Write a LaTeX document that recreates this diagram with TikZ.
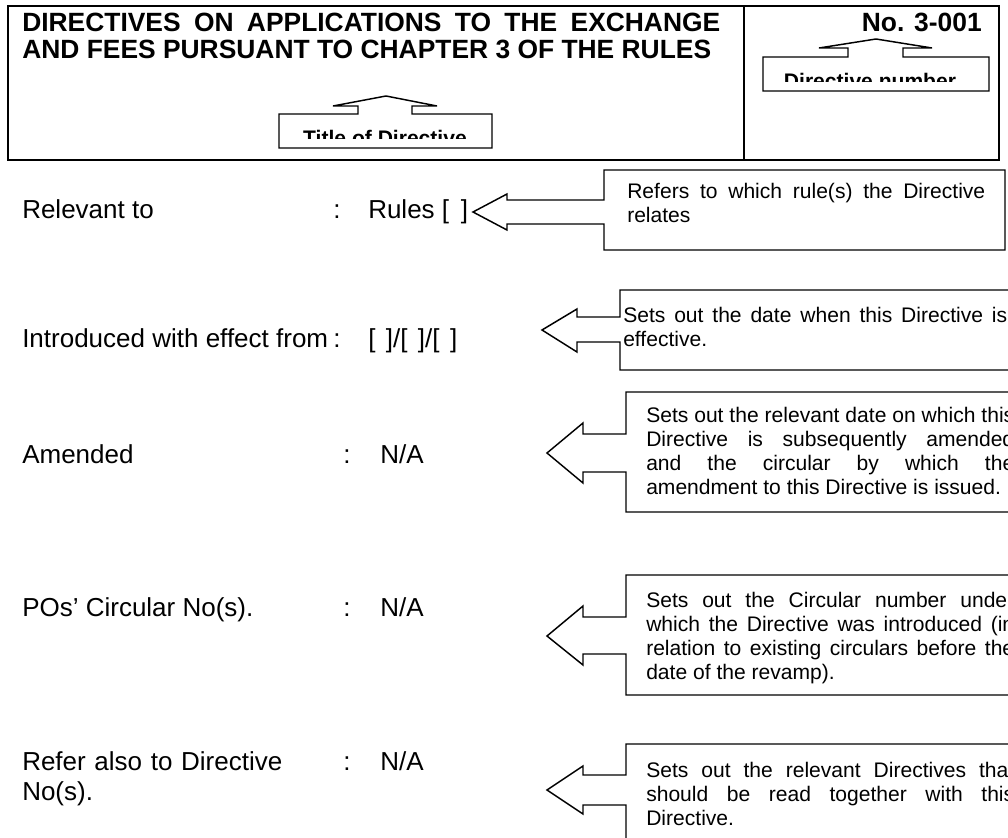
\documentclass[tikz,border=0pt]{standalone}
\usepackage{fontspec}
\setmainfont{Liberation Sans}
\usetikzlibrary{positioning}

\begin{document}
\begin{tikzpicture}[
    x=0.75pt, y=-0.75pt,
    frame/.style={line width=1.5pt},
    callout/.style={line width=1.1pt, line join=miter},
    hdr/.style={font=\fontsize{19.8}{20.25}\selectfont\bfseries, inner sep=0pt},
    lbl/.style={font=\fontsize{19.5}{22.5}\selectfont, inner sep=0pt, anchor=base west},
    note/.style={font=\fontsize{15.8}{18}\selectfont, inner sep=0pt, anchor=base west,
                 align=justify},
    tag/.style={font=\fontsize{15.8}{18}\selectfont\bfseries, inner sep=0pt, anchor=base},
]
\useasboundingbox (0,0) rectangle (1008,838);
\clip (0,0) rectangle (1008,838);

% header frame with title and number
\draw[frame] (8,6) rectangle (999,160);
\draw[frame] (744,6) -- (744,160);
\node[hdr, anchor=base west, text width=523.5pt, align=justify] (title) at (22,32)
  {DIRECTIVES ON APPLICATIONS TO THE EXCHANGE\linebreak AND FEES PURSUANT TO CHAPTER 3 OF THE RULES};
\node[hdr, anchor=base east] (dirno) at (982,32) {No. 3-001};

% up-pointing tags under the header
\draw[callout] (358,114) -- (358,106) -- (333,106) -- (386,96) -- (437,106) -- (412,106)
  -- (412,114) -- (492,114) -- (492,148) -- (279,148) -- (279,114) -- cycle;
\begin{scope}
  \clip (280,115) rectangle (491,139);
  \node[tag] (titletag) at (385,146) {Title of Directive};
\end{scope}
\draw[callout] (848,57) -- (848,48) -- (819,48) -- (876,39) -- (932,48) -- (903,48)
  -- (903,57) -- (989,57) -- (989,91) -- (763,91) -- (763,57) -- cycle;
\begin{scope}
  \clip (764,58) rectangle (988,82);
  \node[tag] (notag) at (870,89) {Directive number};
\end{scope}

% form rows
\node[lbl] (lblrel) at (22,219) {Relevant to};
\node[lbl] (colrel) at (333,219) {:};
\node[lbl] (valrel) at (368,219) {Rules [\hspace{0.45em}]};

\node[lbl] (lbleff) at (22,348) {Introduced with effect from};
\node[lbl] (coleff) at (333,348) {:};
\node[lbl] (valeff) at (368,348) {[\hspace{0.4em}]/[\hspace{0.4em}]/[\hspace{0.4em}]};

\node[lbl] (lblamd) at (22,463) {Amended};
\node[lbl] (colamd) at (343,463) {:};
\node[lbl] (valamd) at (380,463) {N/A};

\node[lbl] (lblcir) at (22,616) {POs' Circular No(s).};
\node[lbl] (colcir) at (343,616) {:};
\node[lbl] (valcir) at (380,616) {N/A};

\node[lbl, text width=225pt, align=left] (lblref) at (22,770) {Refer also to Directive\\No(s).};
\node[lbl] (colref) at (343,770) {:};
\node[lbl] (valref) at (380,770) {N/A};

% left-pointing callouts
\draw[callout] (604,200) -- (604,170) -- (1005,170) -- (1005,250) -- (604,250) -- (604,224)
  -- (507,224) -- (507,230) -- (473,212) -- (507,194) -- (507,200) -- cycle;
\node[note, text width=268.5pt] (noterel) at (627,199)
  {Refers to which rule(s) the Directive\linebreak relates};

\draw[callout] (620,317) -- (620,290) -- (1020,290) -- (1020,370) -- (620,370) -- (620,342)
  -- (577,342) -- (577,352) -- (542,330) -- (577,309) -- (577,317) -- cycle;
\node[note, text width=288pt] (noteeff) at (623,323)
  {Sets out the date when this Directive is\linebreak effective.};

\draw[callout] (626,434) -- (626,392) -- (1020,392) -- (1020,512) -- (626,512) -- (626,472)
  -- (583,472) -- (583,483) -- (547,453) -- (583,423) -- (583,434) -- cycle;
\node[note, text width=276pt] (noteamd) at (646,422)
  {Sets out the relevant date on which this\linebreak Directive is subsequently amended\linebreak
   and the circular by which the\linebreak amendment to this Directive is issued.};

\draw[callout] (626,617) -- (626,575) -- (1020,575) -- (1020,695) -- (626,695) -- (626,654)
  -- (583,654) -- (583,665) -- (547,636) -- (583,606) -- (583,617) -- cycle;
\node[note, text width=276pt] (notecir) at (646,607)
  {Sets out the Circular number under\linebreak which the Directive was introduced (in\linebreak
   relation to existing circulars before the\linebreak date of the revamp).};

\draw[callout] (626,775) -- (626,744) -- (1020,744) -- (1020,860) -- (626,860) -- (626,805)
  -- (583,805) -- (583,814) -- (547,790) -- (583,766) -- (583,775) -- cycle;
\node[note, text width=276pt] (noteref) at (646,777)
  {Sets out the relevant Directives that\linebreak should be read together with this\linebreak
   Directive.};
\end{tikzpicture}
\end{document}
